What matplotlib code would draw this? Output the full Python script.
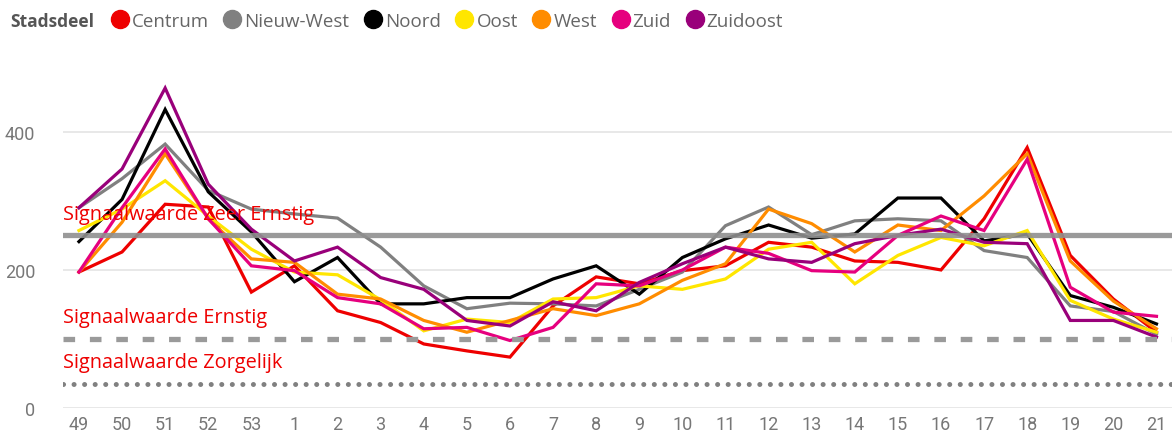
import matplotlib.pyplot as plt
from matplotlib.lines import Line2D

weeks = ['49', '50', '51', '52', '53', '1', '2', '3', '4', '5', '6', '7', '8',
         '9', '10', '11', '12', '13', '14', '15', '16', '17', '18', '19', '20', '21']

centrum = [197, 226, 295, 291, 168, 206, 141, 124, 93, 83, 74, 148, 190,
           180, 199, 206, 240, 233, 213, 211, 200, 274, 377, 221, 158, 110]
nieuw_west = [290, 332, 382, 315, 288, 281, 275, 233, 177, 144, 152, 151, 148,
              172, 197, 264, 291, 251, 271, 274, 271, 228, 218, 148, 140, 107]
noord = [241, 302, 432, 313, 255, 183, 218, 151, 151, 160, 160, 187, 206,
         165, 218, 245, 265, 246, 252, 304, 304, 242, 252, 163, 146, 122]
oost = [257, 288, 329, 278, 230, 197, 193, 157, 112, 129, 124, 158, 160,
        177, 172, 187, 230, 240, 180, 221, 247, 235, 257, 156, 129, 110]
west = [197, 269, 368, 274, 216, 211, 165, 158, 127, 110, 127, 144, 134,
        151, 185, 209, 288, 267, 226, 265, 257, 307, 368, 213, 155, 115]
zuid = [197, 290, 375, 274, 206, 199, 160, 151, 115, 117, 98, 117, 180,
        177, 200, 233, 224, 199, 197, 250, 278, 257, 360, 175, 139, 133]
zuidoost = [290, 346, 463, 324, 259, 213, 233, 189, 172, 127, 119, 154, 141,
            182, 209, 233, 216, 211, 238, 250, 259, 240, 238, 127, 127, 103]

series = {'Centrum': centrum, 'Nieuw-West': nieuw_west, 'Noord': noord,
          'Oost': oost, 'West': west, 'Zuid': zuid, 'Zuidoost': zuidoost}
colors = ['#EE0000', '#808080', '#000000', '#FFE600', '#FF8C00', '#E6007E', '#99007A']

# signaalwaarden
zeer_ernstig = 250
ernstig = 100
zorgelijk = 35

fig = plt.figure(figsize=(11.72, 4.39), dpi=100)
ax = fig.add_axes([63/1172, 1 - 409.3/439, 1 - 63/1172, (409.3 - 60)/439])

x = range(len(weeks))
for (name, vals), c in zip(series.items(), colors):
    ax.plot(x, vals, color=c, lw=2.3, zorder=3, solid_joinstyle='miter')

ax.axhline(zeer_ernstig, color='#8f8f8f', lw=3.8, alpha=0.9, zorder=4)
ax.axhline(ernstig, color='#9a9a9a', lw=3.8, ls=(0, (2.2, 2.8)), zorder=4)
ax.axhline(zorgelijk, color='#808080', lw=3.6, ls=(0, (0.01, 2.1)),
           dash_capstyle='round', zorder=4)

lab_kw = dict(color='#EE0000', fontsize=14.3, family='Open Sans', zorder=5,
              transform=ax.get_yaxis_transform())
ax.text(0.0, zeer_ernstig + 17, 'Signaalwaarde Zeer Ernstig', va='bottom', **lab_kw)
ax.text(0.0, ernstig + 17, 'Signaalwaarde Ernstig', va='bottom', **lab_kw)
ax.text(0.0, zorgelijk + 17, 'Signaalwaarde Zorgelijk', va='bottom', **lab_kw)

ax.set_xlim(-0.37, 25.36)
ax.set_ylim(0, 505)
ax.set_yticks([0, 200, 400])
ax.set_xticks(list(x))
ax.set_xticklabels(weeks)
ax.grid(axis='y', color='#e6e6e6', lw=1.3, zorder=0)
ax.set_axisbelow(True)
for s in ax.spines.values():
    s.set_visible(False)
ax.tick_params(length=0, labelsize=13, labelcolor='#777777', pad=5)
ax.tick_params(axis='y', pad=20)
for t in ax.get_xticklabels() + ax.get_yticklabels():
    t.set_family('Roboto')

# legend
fig.text(10/1172, 1 - 22/439, 'Stadsdeel', fontsize=12.5, color='#555555',
         fontweight='bold', family='Open Sans', va='center')
handles = [Line2D([], [], ls='', marker='o', markersize=13, color=c) for c in colors]
fig.legend(handles, list(series.keys()), loc='center left',
           bbox_to_anchor=(112/1172, 1 - 22/439), ncol=7, frameon=False,
           handlelength=0.8, handletextpad=0.25, columnspacing=0.85,
           borderaxespad=0, borderpad=0,
           prop={'family': 'Open Sans', 'size': 13.5}, labelcolor='#666666')

fig.savefig('out.png', dpi=100)
